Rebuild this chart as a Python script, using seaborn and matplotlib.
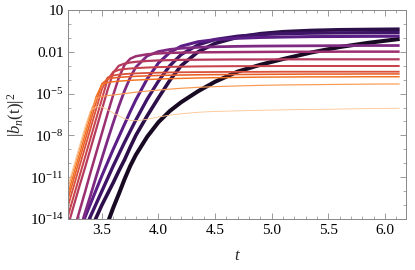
import numpy as np
import pandas as pd
import seaborn as sns
import matplotlib.pyplot as plt
from matplotlib.ticker import FixedLocator, MultipleLocator, FormatStrFormatter, NullFormatter

# time grid shared by all curves
t = [3.20, 3.25, 3.30, 3.35, 3.40, 3.45, 3.50, 3.55, 3.60, 3.65, 3.70, 3.75, 3.80,
     3.90, 4.00, 4.10, 4.20, 4.35, 4.50, 4.70, 4.90, 5.10, 5.35, 5.60, 5.85, 6.13]

# log10 |b_n(t)|^2 (darkest curve first)
n0 = [-23.0, -21.7, -20.5, -19.3, -18.0, -16.8, -15.5, -14.3, -13.2, -12.2, -11.15, -10.2, -9.4,
      -8.1, -7.05, -6.25, -5.62, -4.83, -4.15, -3.42, -2.93, -2.52, -2.05, -1.66, -1.36, -1.08]
n1 = [-18.2, -17.4, -16.6, -15.7, -14.8, -13.9, -13.0, -12.2, -11.4, -10.55, -9.75, -8.85, -8.0,
      -6.6, -5.3, -4.05, -3.0, -2.0, -1.4, -0.95, -0.7, -0.56, -0.47, -0.42, -0.40, -0.38]
n2 = [-17.4, -16.5, -15.6, -14.7, -13.8, -12.9, -12.0, -11.1, -10.2, -9.35, -8.5, -7.7, -6.9,
      -5.4, -4.1, -3.0, -2.2, -1.5, -1.12, -0.88, -0.76, -0.70, -0.66, -0.64, -0.63, -0.62]
n3 = [-16.9, -15.9, -14.9, -13.9, -12.9, -11.9, -10.9, -9.95, -9.0, -8.1, -7.2, -6.3, -5.45,
      -3.95, -2.8, -2.05, -1.6, -1.28, -1.13, -1.03, -0.97, -0.94, -0.91, -0.90, -0.89, -0.88]
n4 = [-17.5, -16.2, -14.9, -13.6, -12.3, -10.95, -9.65, -8.35, -7.1, -5.9, -4.8, -3.85, -3.1,
      -2.3, -1.98, -1.83, -1.75, -1.68, -1.64, -1.61, -1.59, -1.58, -1.57, -1.56, -1.55, -1.55]
n5 = [-16.3, -14.9, -13.5, -12.1, -10.65, -9.25, -7.85, -6.45, -5.1, -3.85, -2.95, -2.5, -2.32,
      -2.18, -2.12, -2.08, -2.06, -2.04, -2.03, -2.02, -2.01, -2.00, -2.00, -1.99, -1.99, -1.99]
n6 = [-14.5, -13.1, -11.7, -10.35, -8.95, -7.55, -6.15, -4.75, -3.5, -3.0, -2.85, -2.77, -2.72,
      -2.66, -2.62, -2.60, -2.58, -2.57, -2.56, -2.55, -2.55, -2.54, -2.54, -2.54, -2.54, -2.54]
n7 = [-13.8, -12.4, -11.0, -9.6, -8.2, -6.8, -5.4, -4.0, -3.45, -3.3, -3.24, -3.2, -3.17,
      -3.13, -3.10, -3.08, -3.07, -3.05, -3.04, -3.03, -3.03, -3.02, -3.02, -3.02, -3.02, -3.02]
n8 = [-13.1, -11.7, -10.3, -8.9, -7.5, -6.1, -4.7, -3.85, -3.7, -3.64, -3.6, -3.57, -3.55,
      -3.52, -3.50, -3.48, -3.47, -3.46, -3.45, -3.44, -3.44, -3.43, -3.43, -3.43, -3.43, -3.43]
n9 = [-12.6, -11.2, -9.8, -8.4, -7.0, -5.6, -4.3, -3.95, -3.88, -3.84, -3.81, -3.78, -3.76,
      -3.73, -3.70, -3.68, -3.67, -3.65, -3.64, -3.63, -3.62, -3.61, -3.60, -3.60, -3.59, -3.59]
n10 = [-12.2, -10.8, -9.4, -8.0, -6.6, -5.2, -4.35, -4.2, -4.15, -4.11, -4.08, -4.05, -4.03,
       -3.99, -3.96, -3.93, -3.91, -3.88, -3.86, -3.84, -3.82, -3.81, -3.80, -3.80, -3.79, -3.79]
n11 = [-11.8, -10.45, -9.05, -7.65, -6.3, -5.35, -5.2, -5.15, -5.1, -5.05, -5.0, -4.95, -4.9,
       -4.82, -4.75, -4.68, -4.62, -4.55, -4.50, -4.45, -4.41, -4.38, -4.36, -4.34, -4.32, -4.31]
n12 = [-11.6, -10.2, -8.8, -7.4, -6.2, -5.95, -5.95, -6.15, -6.4, -6.6, -6.8, -6.92, -6.95,
       -6.85, -6.68, -6.55, -6.45, -6.34, -6.28, -6.24, -6.20, -6.17, -6.14, -6.11, -6.08, -6.05]

curves = [n0, n1, n2, n3, n4, n5, n6, n7, n8, n9, n10, n11, n12]

colors = ["#180a22", "#2c0f48", "#3e1466", "#5a1e86", "#7e2a82", "#9c2f70", "#b53a5e",
          "#c8434c", "#d9503c", "#ea5f28", "#f2701e", "#f99a52", "#fcc48e"]
widths = [2.9, 2.6, 2.4, 2.2, 2.0, 1.8, 1.6, 1.45, 1.3, 1.15, 1.05, 0.85, 0.6]

df = pd.concat(
    [pd.DataFrame({"t": t, "b2": 10.0 ** np.array(c), "n": i}) for i, c in enumerate(curves)],
    ignore_index=True,
)

sns.set_style("ticks")
plt.rcParams["font.family"] = ["Liberation Serif", "DejaVu Serif"]
plt.rcParams["mathtext.fontset"] = "custom"
plt.rcParams["mathtext.rm"] = "Liberation Serif"
plt.rcParams["mathtext.it"] = "Liberation Serif:italic"

fig = plt.figure(figsize=(4.15, 2.70), dpi=100)
ax = fig.add_axes([0.165, 0.189, 0.813, 0.774])

sns.lineplot(
    data=df, x="t", y="b2", hue="n", size="n",
    palette=dict(enumerate(colors)), sizes=dict(enumerate(widths)),
    estimator=None, sort=False, legend=False, ax=ax, solid_capstyle="butt",
)

ax.set_yscale("log")
ax.set_ylim(1e-14, 10)
ax.set_xlim(3.205, 6.185)

ax.yaxis.set_major_locator(FixedLocator([1e-14, 1e-11, 1e-8, 1e-5, 1e-2, 10]))
ax.set_yticklabels([r"$10^{-14}$", r"$10^{-11}$", r"$10^{-8}$", r"$10^{-5}$", "0.01", "10"])
ax.yaxis.set_minor_locator(FixedLocator([10.0 ** k for k in range(-14, 2)]))
ax.yaxis.set_minor_formatter(NullFormatter())
ax.xaxis.set_major_locator(MultipleLocator(0.5))
ax.xaxis.set_minor_locator(MultipleLocator(0.1))
ax.xaxis.set_major_formatter(FormatStrFormatter("%.1f"))

ax.tick_params(which="both", direction="in", top=True, right=True, color="#888888",
               labelsize=11, labelcolor="black")
ax.tick_params(which="major", length=4, width=0.6)
ax.tick_params(which="minor", length=2, width=0.5)
for s in ax.spines.values():
    s.set_color("#888888")
    s.set_linewidth(0.7)

ax.set_xlabel(r"$t$", fontsize=12, labelpad=8)
ax.set_ylabel(r"$|b_n(\mathrm{t})|^2$", fontsize=12, labelpad=2)

fig.savefig("out.png", dpi=100)
